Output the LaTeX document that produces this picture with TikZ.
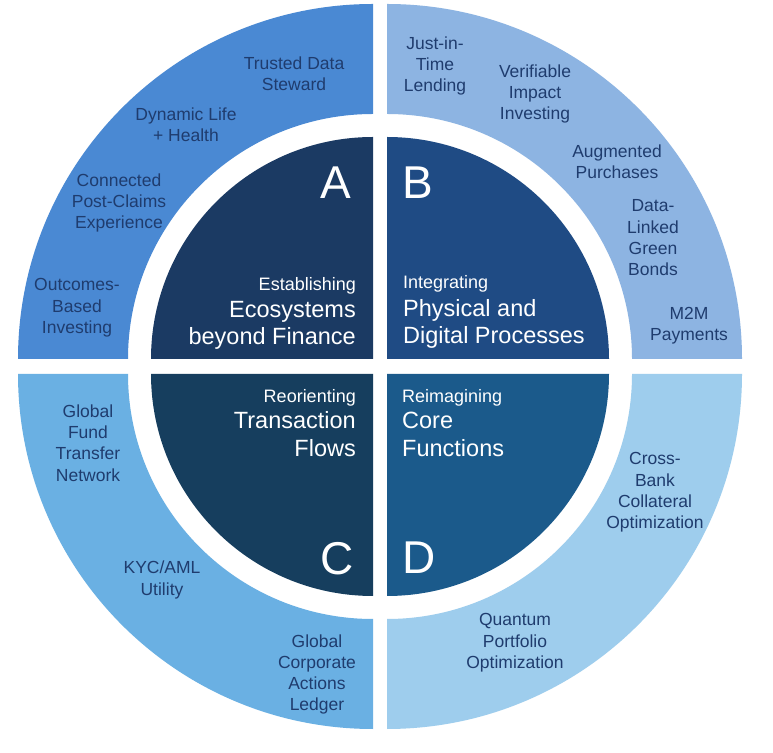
\documentclass[tikz,border=0pt]{standalone}
\usepackage{fontspec}
\setmainfont{Liberation Sans}
\definecolor{outA}{HTML}{4A89D3}
\definecolor{outB}{HTML}{8DB4E2}
\definecolor{outC}{HTML}{6AB0E3}
\definecolor{outD}{HTML}{9ECDED}
\definecolor{inA}{HTML}{1B3A63}
\definecolor{inB}{HTML}{1F4B84}
\definecolor{inC}{HTML}{163E5E}
\definecolor{inD}{HTML}{1B5A8B}
\definecolor{txtc}{HTML}{1F3C6E}
\begin{document}
\begin{tikzpicture}[x=1pt,y=1pt,
  outtxt/.style={align=center, text=txtc, font=\fontsize{17.5}{21.3}\selectfont, inner sep=0pt},
  letter/.style={text=white, font=\fontsize{46}{46}\selectfont, inner sep=0pt},
  smallw/.style={text=white, font=\fontsize{18}{22}\selectfont, inner sep=0pt},
  bigw/.style={text=white, font=\fontsize{23.5}{27}\selectfont, inner sep=0pt}]
\useasboundingbox (0,0) rectangle (773,752);
\fill[white] (0,0) rectangle (773,752);
% outer bands
\fill[outA] (373,638) -- (373,748) arc[start angle=90,end angle=180,radius=355] -- (128,393) arc[start angle=180,end angle=90,radius=245] -- cycle;
\fill[outB] (387,638) -- (387,748) arc[start angle=90,end angle=0,radius=355] -- (632,393) arc[start angle=0,end angle=90,radius=245] -- cycle;
\fill[outC] (373,133) -- (373,23) arc[start angle=270,end angle=180,radius=355] -- (128,378) arc[start angle=180,end angle=270,radius=245] -- cycle;
\fill[outD] (387,133) -- (387,23) arc[start angle=270,end angle=360,radius=355] -- (632,378) arc[start angle=0,end angle=-90,radius=245] -- cycle;
% inner quarters
\fill[inA] (373,393) -- (373,615) arc[start angle=90,end angle=180,radius=222] -- cycle;
\fill[inB] (387,393) -- (387,615) arc[start angle=90,end angle=0,radius=222] -- cycle;
\fill[inC] (373,378) -- (373,156) arc[start angle=270,end angle=180,radius=222] -- cycle;
\fill[inD] (387,378) -- (387,156) arc[start angle=270,end angle=360,radius=222] -- cycle;
% letters
\node[letter] (lA) at (336,569) {A};
\node[letter] (lB) at (418,569) {B};
\node[letter] (lC) at (337,193) {C};
\node[letter] (lD) at (419,194) {D};
% inner texts
\node[smallw, anchor=base east] (a1) at (356,461) {Establishing};
\node[bigw, anchor=base east] (a2) at (356,434) {Ecosystems};
\node[bigw, anchor=base east] (a3) at (356,407) {beyond Finance};
\node[smallw, anchor=base west] (b1) at (403,463) {Integrating};
\node[bigw, anchor=base west] (b2) at (403,435) {Physical and};
\node[bigw, anchor=base west] (b3) at (403,408) {Digital Processes};
\node[smallw, anchor=base east] (c1) at (356,349) {Reorienting};
\node[bigw, anchor=base east] (c2) at (356,323) {Transaction};
\node[bigw, anchor=base east] (c3) at (356,295) {Flows};
\node[smallw, anchor=base west] (d1) at (402,349) {Reimagining};
\node[bigw, anchor=base west] (d2) at (402,323) {Core};
\node[bigw, anchor=base west] (d3) at (402,295) {Functions};
% outer texts
\node[outtxt] (trusted) at (294,678) {Trusted Data\\Steward};
\node[outtxt] (dynamic) at (186,627.5) {Dynamic Life\\+ Health};
\node[outtxt] (connected) at (119,549) {Connected\\Post-Claims\\Experience};
\node[outtxt] (outcomes) at (77,444) {Outcomes-\\Based\\Investing};
\node[outtxt] (justin) at (435,686) {Just-in-\\Time\\Lending};
\node[outtxt] (verifiable) at (535,658) {Verifiable\\Impact\\Investing};
\node[outtxt] (augmented) at (617,590) {Augmented\\Purchases};
\node[outtxt] (datalinked) at (653,514) {Data-\\Linked\\Green\\Bonds};
\node[outtxt] (m2m) at (689,426) {M2M\\Payments};
\node[outtxt] (gfund) at (88,309) {Global\\Fund\\Transfer\\Network};
\node[outtxt] (kyc) at (162,172) {KYC/AML\\Utility};
\node[outtxt] (gcorp) at (317,77.5) {Global\\Corporate\\Actions\\Ledger};
\node[outtxt] (crossbank) at (655,259.5) {Cross-\\Bank\\Collateral\\Optimization};
\node[outtxt] (quantum) at (515,109) {Quantum\\Portfolio\\Optimization};
\end{tikzpicture}
\end{document}
